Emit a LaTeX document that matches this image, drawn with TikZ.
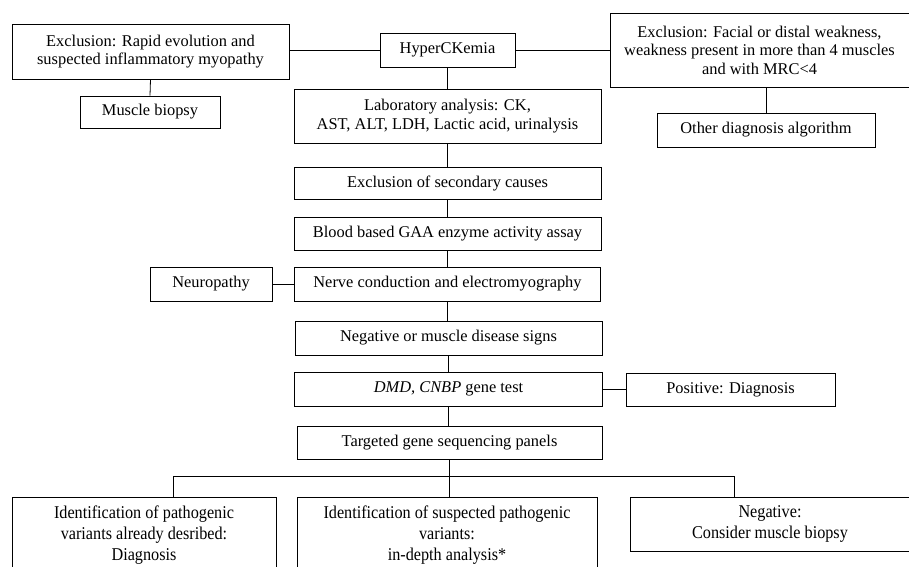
\documentclass[tikz,border=0pt]{standalone}
\usepackage{fontspec}
\setmainfont{Liberation Serif}
\newfontfamily\narrowserif[FakeStretch=0.9]{Liberation Serif}

\begin{document}
\begin{tikzpicture}[x=1pt,y=-1pt,
    box/.style={draw, line width=0.8pt, inner sep=0pt, align=center,
      font=\fontsize{16.4}{18.5}\selectfont},
    tallbox/.style={box, font=\narrowserif\fontsize{18}{21}\selectfont},
    link/.style={line width=0.8pt}]
    \useasboundingbox (0,0) rectangle (909,566);

    % top row
    \node[box, minimum width=135, minimum height=34] (hyper) at (447.5,50) {HyperCKemia};
    \node[box, minimum width=277, minimum height=55] (exclleft) at (150.5,51.5)
        {Exclusion: Rapid evolution and\\suspected inflammatory myopathy};
    \node[box, minimum width=299, minimum height=74] (exclright) at (759.5,50)
        {Exclusion: Facial or distal weakness,\\weakness present in more than 4 muscles\\and with MRC<4};
    \node[box, minimum width=140, minimum height=32] (biopsy) at (150,112) {Muscle biopsy};
    \node[box, minimum width=218, minimum height=34] (otheralg) at (766,130) {Other diagnosis algorithm};

    % main column
    \node[box, minimum width=307, minimum height=54] (lab) at (447.5,116)
        {Laboratory analysis: CK,\\AST, ALT, LDH, Lactic acid, urinalysis};
    \node[box, minimum width=307, minimum height=32] (secondary) at (447.5,183) {Exclusion of secondary causes};
    \node[box, minimum width=307, minimum height=33] (gaa) at (447.5,233.5) {Blood based GAA enzyme activity assay};
    \node[box, minimum width=306, minimum height=34] (nerve) at (447.5,284) {Nerve conduction and electromyography};
    \node[box, minimum width=122, minimum height=34] (neuro) at (211,284) {Neuropathy};
    \node[box, minimum width=307, minimum height=34] (negsigns) at (448.5,338) {Negative or muscle disease signs};
    \node[box, minimum width=308, minimum height=34] (genetest) at (448.5,389) {\textit{DMD, CNBP} gene test};
    \node[box, minimum width=209, minimum height=33] (positive) at (730.5,389.5) {Positive: Diagnosis};
    \node[box, minimum width=305, minimum height=33] (panels) at (449.5,442.5) {Targeted gene sequencing panels};

    % bottom row
    \node[tallbox, minimum width=264, minimum height=76] (known) at (144,535)
        {Identification of pathogenic\\variants already desribed:\\Diagnosis};
    \node[tallbox, minimum width=300, minimum height=76] (suspect) at (447,535)
        {Identification of suspected pathogenic\\variants:\\in-depth analysis*};
    \node[tallbox, minimum width=280, minimum height=54] (negative) at (770,524)
        {Negative:\\Consider muscle biopsy};

    \coordinate (splitl) at (173,476);
    \coordinate (splitr) at (734,476);

    % connectors
    \draw[link] (hyper.west) -- (hyper.west -| exclleft.east);
    \draw[link] (hyper.east) -- (hyper.east -| exclright.west);
    \draw[link] (exclleft.south) -- (biopsy.north);
    \draw[link] (otheralg.north) -- (otheralg.north |- exclright.south);
    \draw[link] (hyper.south) -- (hyper.south |- lab.north);
    \draw[link] (lab.south) -- (lab.south |- secondary.north);
    \draw[link] (secondary.south) -- (secondary.south |- gaa.north);
    \draw[link] (gaa.south) -- (gaa.south |- nerve.north);
    \draw[link] (nerve.west) -- (nerve.west -| neuro.east);
    \draw[link] (nerve.south) -- (nerve.south |- negsigns.north);
    \draw[link] (negsigns.south) -- (negsigns.south |- genetest.north);
    \draw[link] (genetest.east) -- (genetest.east -| positive.west);
    \draw[link] (genetest.south) -- (genetest.south |- panels.north);
    \draw[link] (panels.south) -- (panels.south |- suspect.north);
    \draw[link] (splitl |- known.north) -- (splitl) -- (splitr) -- (splitr |- negative.north);
\end{tikzpicture}
\end{document}
